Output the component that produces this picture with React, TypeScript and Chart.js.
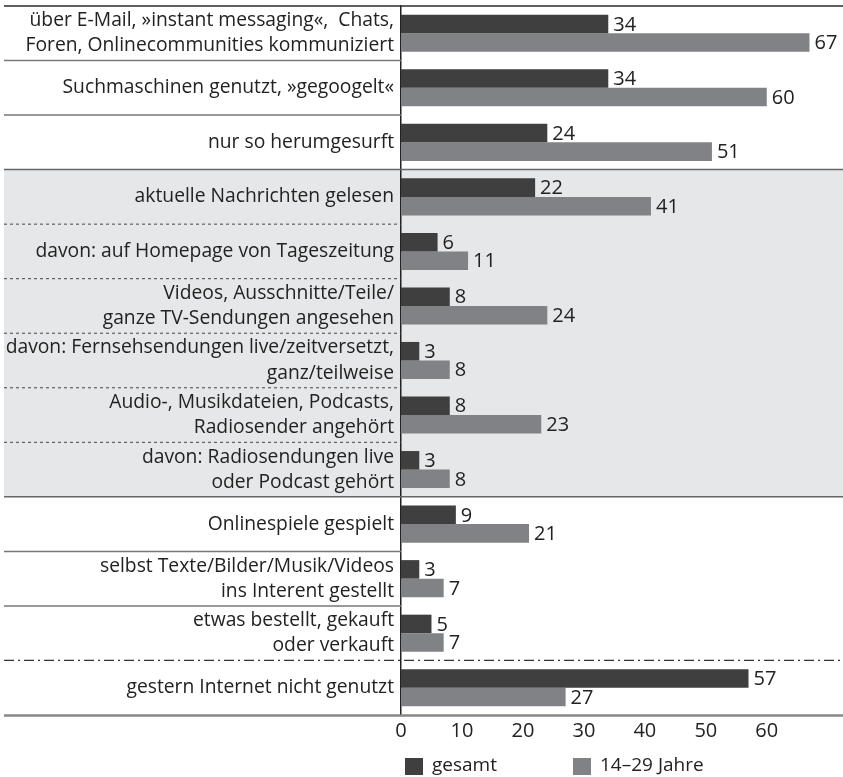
import React, { useEffect, useRef } from "react";
import { Chart, registerables } from "chart.js";

Chart.register(...registerables);

const categories: (string | string[])[] = [
  ["über E-Mail, »instant messaging«,  Chats,", "Foren, Onlinecommunities kommuniziert"],
  "Suchmaschinen genutzt, »gegoogelt«",
  "nur so herumgesurft",
  "aktuelle Nachrichten gelesen",
  "davon: auf Homepage von Tageszeitung",
  ["Videos, Ausschnitte/Teile/", "ganze TV-Sendungen angesehen"],
  ["davon: Fernsehsendungen live/zeitversetzt,", "ganz/teilweise"],
  ["Audio-, Musikdateien, Podcasts,", "Radiosender angehört"],
  ["davon: Radiosendungen live", "oder Podcast gehört"],
  "Onlinespiele gespielt",
  ["selbst Texte/Bilder/Musik/Videos", "ins Interent gestellt"],
  ["etwas bestellt, gekauft", "oder verkauft"],
  "gestern Internet nicht genutzt",
];

const gesamt = [34, 34, 24, 22, 6, 8, 3, 8, 3, 9, 3, 5, 57];
const jung = [67, 60, 51, 41, 11, 24, 8, 23, 8, 21, 7, 7, 27];
const seriesNames = ["gesamt", "14–29 Jahre"];
const xTicks = [0, 10, 20, 30, 40, 50, 60];

const FONT = "'Open Sans'";
const DARK = "#3f3f3f";
const LIGHT = "#818285";
const SHADE = "#e6e7e8";
const TEXT = "#222222";

const decorPlugin = {
  id: "decor",
  beforeDraw(chart: any) {
    const { ctx } = chart;
    const y = chart.scales.y;
    const b = (i: number) => (y.getPixelForValue(i) + y.getPixelForValue(i + 1)) / 2;
    ctx.save();
    ctx.fillStyle = SHADE;
    const top = b(2);
    const bot = b(8);
    ctx.fillRect(4, top, chart.width - 4, bot - top);
    ctx.restore();
  },
  afterDraw(chart: any) {
    const { ctx, chartArea } = chart;
    const y = chart.scales.y;
    const b = (i: number) => (y.getPixelForValue(i) + y.getPixelForValue(i + 1)) / 2;
    const L = 4;
    const A = chartArea.left;
    const R = chart.width;
    const line = (x1: number, x2: number, yy: number, color: string, w: number, dash: number[] = []) => {
      ctx.save();
      ctx.strokeStyle = color;
      ctx.lineWidth = w;
      ctx.setLineDash(dash);
      ctx.beginPath();
      ctx.moveTo(x1, yy);
      ctx.lineTo(x2, yy);
      ctx.stroke();
      ctx.restore();
    };
    line(L, R, chartArea.top, "#2b2b2b", 1.5);
    for (const i of [0, 1, 9, 10]) line(L, A, b(i), "#777777", 1.5);
    for (const i of [2, 8]) line(L, R, b(i), "#666666", 1.5);
    for (const i of [3, 4, 5, 6, 7]) line(L, A, b(i), "#444444", 1, [3, 3]);
    line(L, R, b(11), "#333333", 1.2, [10, 4, 2, 4]);
    line(L, R, chartArea.bottom + 0.5, "#888888", 2.5);

    // value labels
    ctx.save();
    ctx.font = `20px ${FONT}`;
    ctx.fillStyle = TEXT;
    ctx.textBaseline = "middle";
    ctx.textAlign = "left";
    chart.data.datasets.forEach((ds: any, di: number) => {
      const meta = chart.getDatasetMeta(di);
      meta.data.forEach((el: any, i: number) => {
        ctx.fillText(String(ds.data[i]), el.x + 5, el.y + 1);
      });
    });
    ctx.restore();

    // legend
    ctx.save();
    ctx.font = `19px ${FONT}`;
    ctx.textBaseline = "middle";
    const items = [
      { x: 405, color: DARK, label: seriesNames[0] },
      { x: 573, color: LIGHT, label: seriesNames[1] },
    ];
    items.forEach((it) => {
      ctx.fillStyle = it.color;
      ctx.fillRect(it.x, 758, 18, 17);
      ctx.fillStyle = TEXT;
      ctx.fillText(it.label, it.x + 27, 766);
    });
    ctx.restore();
  },
};

export default function App() {
  const ref = useRef<HTMLCanvasElement>(null);
  useEffect(() => {
    if (!ref.current) return;
    const chart = new Chart(ref.current, {
      type: "bar",
      data: {
        labels: categories,
        datasets: [
          { label: seriesNames[0], data: gesamt, backgroundColor: DARK, categoryPercentage: 0.68, barPercentage: 1 },
          { label: seriesNames[1], data: jung, backgroundColor: LIGHT, categoryPercentage: 0.68, barPercentage: 1 },
        ],
      },
      options: {
        indexAxis: "y",
        animation: false,
        responsive: false,
        layout: { padding: { left: 4, top: 6, right: 0, bottom: 0 } },
        plugins: { legend: { display: false }, tooltip: { enabled: false } },
        scales: {
          y: {
            type: "category",
            grid: { display: false, drawTicks: false },
            border: { display: true, color: "#222222", width: 1.5 },
            ticks: {
              autoSkip: false,
              padding: 7,
              color: TEXT,
              font: { family: FONT, size: 19.3, lineHeight: 1.3 },
            },
            afterFit: (s: any) => {
              s.width = 397;
              s.paddingTop = 0;
              s.paddingBottom = 0;
            },
          },
          x: {
            type: "linear",
            min: 0,
            max: 72.5,
            grid: { display: false, drawTicks: false },
            border: { display: false },
            ticks: {
              padding: 4,
              color: TEXT,
              font: { family: FONT, size: 20 },
            },
            afterBuildTicks: (s: any) => {
              s.ticks = xTicks.map((v) => ({ value: v }));
            },
            afterFit: (s: any) => {
              s.height = 62;
              s.paddingLeft = 0;
              s.paddingRight = 0;
            },
          },
        },
      },
      plugins: [decorPlugin],
    });
    return () => chart.destroy();
  }, []);
  return (
    <div style={{ position: "absolute", left: 0, top: 0, width: 843, height: 777 }}>
      <canvas ref={ref} width={843} height={777} />
    </div>
  );
}
